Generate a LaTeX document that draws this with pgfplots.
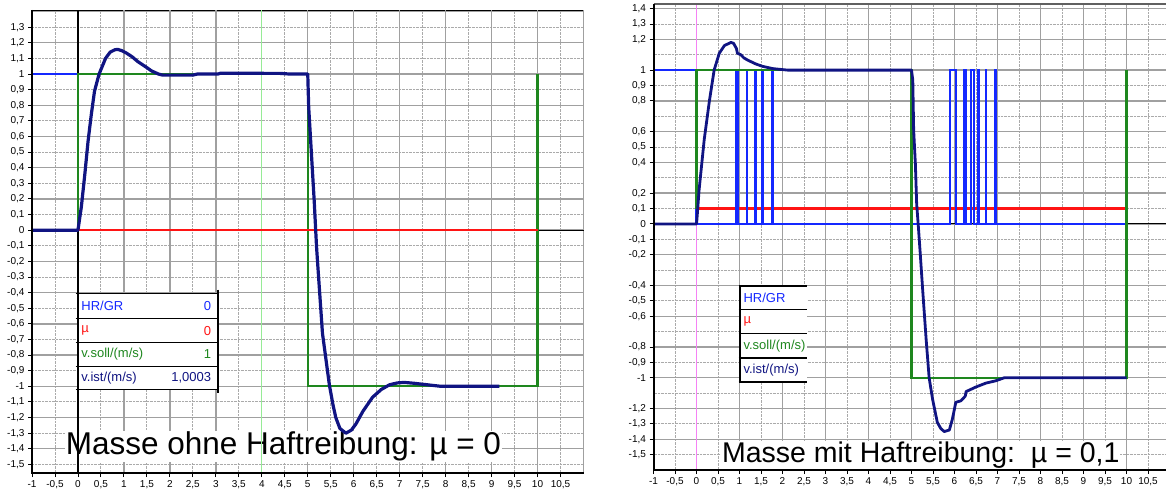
\documentclass[border=0pt]{standalone}
\usepackage{fontspec}
\setmainfont{Liberation Sans}
\usepackage{pgfplots}
\pgfplotsset{compat=1.18}

\definecolor{vist}{RGB}{16,20,130}
\definecolor{hrgr}{RGB}{20,40,255}
\definecolor{mu}{RGB}{255,20,20}
\definecolor{vsoll}{RGB}{30,135,30}
\definecolor{gridd}{RGB}{160,160,160}
\definecolor{gridl}{RGB}{170,170,170}
\definecolor{cursg}{RGB}{150,235,150}
\definecolor{cursp}{RGB}{245,130,245}

\pgfplotsset{
  chart/.style={
    scale only axis,
    clip=false,
    axis line style={black, line width=0.9pt},
    tick align=outside,
    tick pos=left,
    major tick length=4pt,
    minor tick length=0pt,
    tick style={black, line width=0.9pt},
    xmajorgrids, ymajorgrids, yminorgrids,
    major grid style={gridl, densely dotted, line width=0.9pt},
    minor grid style={gridl, densely dotted, line width=0.9pt},
    xtick={-1,-0.5,0,0.5,1,1.5,2,2.5,3,3.5,4,4.5,5,5.5,6,6.5,7,7.5,8,8.5,9,9.5,10,10.5},
    extra x ticks={-1,0,1,2,3,4,5,6,7,8,9,10,11},
    extra x tick labels={},
    extra x tick style={major tick length=0pt, grid=major, major grid style={gridd, solid, line width=1.4pt}},
    extra y ticks={-1.4,-1.2,-1,-0.8,-0.6,-0.4,-0.2,0,0.2,0.4,0.6,0.8,1,1.2,1.4},
    extra y tick labels={},
    extra y tick style={major tick length=0pt, grid=major, major grid style={gridd, solid, line width=1.4pt}},
    tick label style={font=\fontsize{10}{12}\selectfont, text=black},
    /pgf/number format/fixed,
    /pgf/number format/use comma,
    /pgf/number format/assume math mode=true,
  },
}
\tikzset{
  legtext/.style={font=\fontsize{13}{15}\selectfont, inner sep=0pt},
  bigtext/.style={fill=white, inner sep=1pt, anchor=base west, text=black},
  legline/.style={black, line width=1.5pt},
}

\begin{document}
\begin{tikzpicture}
\useasboundingbox (0,0) rectangle (1166pt,495pt);

% ---------- left: ohne Haftreibung ----------
\begin{axis}[chart,
  at={(32pt,22pt)}, anchor=south west,
  width=551.5pt, height=463pt,
  xmin=-1, xmax=11, ymin=-1.555, ymax=1.41,
  ytick={-1.5,-1.4,-1.3,-1.2,-1.1,-1,-0.9,-0.8,-0.7,-0.6,-0.5,-0.4,-0.3,-0.2,-0.1,0,0.1,0.2,0.3,0.4,0.5,0.6,0.7,0.8,0.9,1,1.1,1.2,1.3},
]
\node[bigtext, font=\fontsize{31.5}{34}\selectfont] at (axis cs:-0.29,-1.436) {Masse ohne Haftreibung: µ = 0};

\draw[black, line width=1pt] (axis cs:-1,0) -- (axis cs:11,0);
\draw[black, line width=1.2pt] (axis cs:0,-1.555) -- (axis cs:0,1.41);
\draw[cursg, line width=1.4pt] (axis cs:4,-1.555) -- (axis cs:4,1.41);

\addplot[hrgr, line width=2.2pt] coordinates {(-1,1) (0,1) (0,0) (10,0)};
\addplot[vsoll, line width=2.2pt] coordinates {(0,0) (0,1) (5,1) (5,-1) (10,-1) (10,1)};
\addplot[mu, line width=2.4pt] coordinates {(0,0) (10,0)};
\addplot[vist, line width=3.2pt, line join=round] coordinates {
 (-1,0) (0,0) (0.074,0.15) (0.15,0.36) (0.22,0.57) (0.29,0.74) (0.36,0.89)
 (0.46,1.0) (0.6,1.1) (0.7,1.14) (0.8,1.155) (0.86,1.158) (0.95,1.15) (1.05,1.135)
 (1.18,1.11) (1.3,1.08) (1.47,1.047) (1.6,1.02) (1.75,1.0) (1.84,0.993) (2.5,0.993)
 (2.6,1.0) (3.05,1.0) (3.1,1.005) (4.4,1.004) (4.6,1.0) (5.0,1.0)
 (5.02,0.79) (5.08,0.49) (5.14,0.19) (5.19,-0.1) (5.21,-0.19) (5.32,-0.66) (5.47,-0.99)
 (5.55,-1.12) (5.61,-1.2) (5.7,-1.27) (5.83,-1.30) (5.95,-1.28) (6.05,-1.24) (6.2,-1.16)
 (6.41,-1.07) (6.6,-1.02) (6.78,-0.99) (6.95,-0.978) (7.1,-0.975) (7.3,-0.98) (7.6,-0.99)
 (7.9,-1.0) (9.17,-1.0)};

% legend table
\fill[white] (axis cs:0,-0.406) rectangle (axis cs:3.05,-1.021);
\draw[legline] (axis cs:0,-0.38) -- (axis cs:0,-1.04);
\draw[legline] (axis cs:3.05,-0.38) -- (axis cs:3.05,-1.04);
\draw[legline] (axis cs:-0.05,-0.406) -- (axis cs:3.05,-0.406);
\draw[legline] (axis cs:-0.05,-0.566) -- (axis cs:3.05,-0.566);
\draw[legline] (axis cs:-0.05,-0.72) -- (axis cs:3.05,-0.72);
\draw[legline] (axis cs:-0.05,-0.872) -- (axis cs:3.05,-0.872);
\draw[legline] (axis cs:-0.05,-1.021) -- (axis cs:3.05,-1.021);
\node[legtext, anchor=west, text=hrgr] at (axis cs:0.07,-0.486) {HR/GR};
\node[legtext, anchor=east, text=hrgr] at (axis cs:2.9,-0.486) {0};
\node[legtext, anchor=west, text=mu] at (axis cs:0.07,-0.643) {µ};
\node[legtext, anchor=east, text=mu] at (axis cs:2.9,-0.643) {0};
\node[legtext, anchor=west, text=vsoll] at (axis cs:0.07,-0.796) {v.soll/(m/s)};
\node[legtext, anchor=east, text=vsoll] at (axis cs:2.9,-0.796) {1};
\node[legtext, anchor=west, text=vist] at (axis cs:0.07,-0.946) {v.ist/(m/s)};
\node[legtext, anchor=east, text=vist] at (axis cs:2.9,-0.946) {1,0003};

\draw[black, line width=2pt] (rel axis cs:0,1) -- (rel axis cs:0,0) -- (rel axis cs:1,0);
\end{axis}

% ---------- right: mit Haftreibung ----------
\begin{axis}[chart,
  at={(653.5pt,25pt)}, anchor=south west,
  width=520pt, height=466pt,
  xmin=-1, xmax=11.093, ymin=-1.6, ymax=1.43,
  ytick={-1.5,-1.4,-1.3,-1.2,-1,-0.9,-0.8,-0.6,-0.5,-0.4,-0.2,-0.1,0,0.1,0.2,0.4,0.5,0.6,0.8,0.9,1,1.2,1.3,1.4},
  minor ytick={-1.1,-0.7,-0.3,0.3,0.7,1.1},
]
\node[bigtext, font=\fontsize{28.5}{31}\selectfont] at (axis cs:0.567,-1.55) {Masse mit Haftreibung:\ \ µ = 0,1};

\draw[black, line width=1pt] (axis cs:-1,0) -- (axis cs:11.1,0);
\draw[cursp, line width=1.2pt] (axis cs:0,-1.6) -- (axis cs:0,1.43);
\draw[gridd!60!black, line width=1.6pt] (rel axis cs:0,1) -- (rel axis cs:1,1);

\addplot[mu, line width=2.4pt] coordinates {(0,0.1) (10,0.1)};
\addplot[hrgr, line width=2.2pt] coordinates {
 (-1,1) (0,1) (0,0)
 (0.92,0) (0.92,1) (0.97,1) (0.97,0)
 (1.17,0) (1.17,1) (1.18,1) (1.18,0)
 (1.36,0) (1.36,1) (1.37,1) (1.37,0)
 (1.53,0) (1.53,1) (1.54,1) (1.54,0)
 (1.76,0) (1.76,1) (1.77,1) (1.77,0)
 (5.9,0) (5.9,1) (6.04,1) (6.04,0)
 (6.23,0) (6.23,1) (6.27,1) (6.27,0)
 (6.39,0) (6.39,1) (6.45,1) (6.45,0)
 (6.56,0) (6.56,1) (6.57,1) (6.57,0)
 (6.73,0) (6.73,1) (6.74,1) (6.74,0)
 (6.95,0) (6.95,1) (6.96,1) (6.96,0)
 (10,0)};
\addplot[vsoll, line width=2.2pt] coordinates {(0,0.1) (0,1) (5,1) (5,-1) (10,-1) (10,1)};
\addplot[vist, line width=2.8pt, line join=round] coordinates {
 (-1,0) (0,0) (0.01,0.03) (0.06,0.22) (0.18,0.55) (0.3,0.8) (0.41,1.0) (0.53,1.11)
 (0.65,1.16) (0.8,1.18) (0.86,1.175) (0.93,1.14) (0.95,1.11) (1.03,1.10) (1.1,1.08)
 (1.19,1.065) (1.38,1.04) (1.53,1.025) (1.77,1.01) (2.12,1.0) (5.0,1.0)
 (5.03,0.935) (5.05,0.61) (5.09,0.39) (5.12,0.13) (5.16,-0.02) (5.2,-0.18) (5.26,-0.43)
 (5.34,-0.75) (5.41,-1.0) (5.49,-1.14) (5.6,-1.29) (5.68,-1.33) (5.76,-1.35) (5.88,-1.34)
 (5.95,-1.27) (6.03,-1.16) (6.15,-1.15) (6.25,-1.12) (6.27,-1.09) (6.5,-1.06) (6.73,-1.035)
 (6.96,-1.02) (7.16,-1.0) (10,-1.0)};

% legend table
\fill[white] (axis cs:1.01,-0.403) rectangle (axis cs:2.58,-1.028);
\draw[legline] (axis cs:1.01,-0.403) -- (axis cs:1.01,-1.028);
\draw[legline] (axis cs:0.98,-0.403) -- (axis cs:2.58,-0.403);
\draw[legline] (axis cs:0.98,-0.558) -- (axis cs:2.58,-0.558);
\draw[legline] (axis cs:0.98,-0.714) -- (axis cs:2.58,-0.714);
\draw[legline] (axis cs:0.98,-0.872) -- (axis cs:2.58,-0.872);
\draw[legline] (axis cs:0.98,-1.028) -- (axis cs:2.58,-1.028);
\node[legtext, anchor=west, text=hrgr] at (axis cs:1.09,-0.48) {HR/GR};
\node[legtext, anchor=west, text=mu] at (axis cs:1.09,-0.636) {µ};
\node[legtext, anchor=west, text=vsoll] at (axis cs:1.09,-0.793) {v.soll/(m/s)};
\node[legtext, anchor=west, text=vist] at (axis cs:1.09,-0.95) {v.ist/(m/s)};

\draw[black, line width=2pt] (rel axis cs:0,1) -- (rel axis cs:0,0) -- (rel axis cs:1,0);
\end{axis}
\end{tikzpicture}
\end{document}
